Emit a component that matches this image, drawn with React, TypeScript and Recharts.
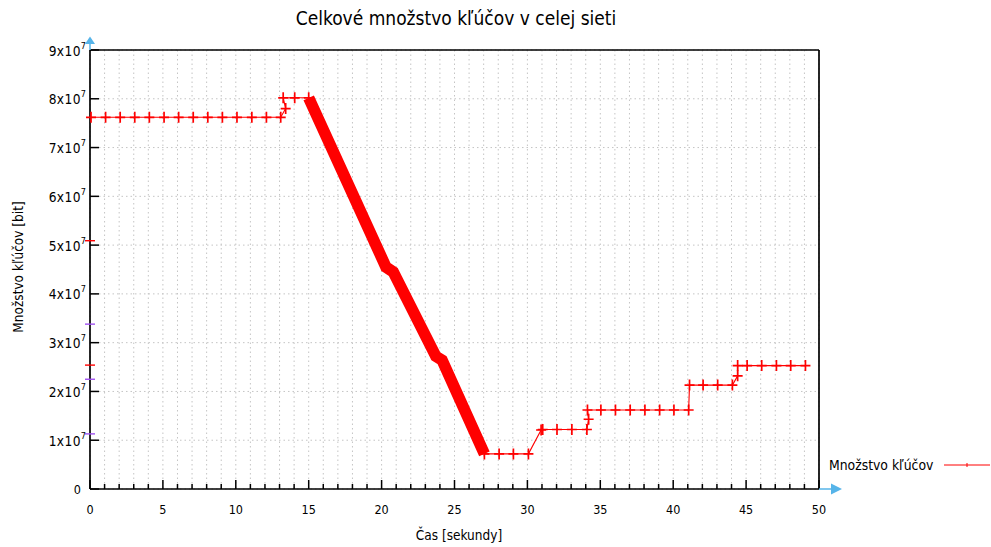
import React from 'react';
import { ComposedChart, Line, XAxis, YAxis, CartesianGrid, Scatter, Legend } from 'recharts';

// Values in units of 10^7 bit, time in seconds
const stepTimes = [0.07, 1.07, 2.07, 3.07, 4.07, 5.08, 6.08, 7.08, 8.08, 9.08, 10.08, 11.1, 12.1, 13.08, 13.42, 13.25, 14.04, 15.0];
const stepValues = [7.62, 7.62, 7.62, 7.62, 7.62, 7.62, 7.62, 7.62, 7.62, 7.62, 7.62, 7.62, 7.62, 7.62, 7.8, 8.02, 8.02, 8.02];

const bandTimes = [15.0, 20.3, 20.8, 23.72, 24.15, 27.05];
const bandValues = [8.02, 4.55, 4.45, 2.72, 2.64, 0.72];

const riseTimes = [27.05, 28.06, 29.04, 30.07, 30.94, 31.05, 32.03, 33.05, 34.08, 34.2, 34.12, 35.04, 36.04, 37.05, 38.06, 39.07, 40.05, 41.06, 41.12, 42.05, 43.05, 44.06, 44.42, 44.42, 45.07, 46.07, 47.08, 48.06, 49.07];
const riseValues = [0.72, 0.72, 0.72, 0.72, 1.21, 1.22, 1.22, 1.22, 1.22, 1.43, 1.62, 1.62, 1.62, 1.62, 1.62, 1.62, 1.62, 1.62, 2.13, 2.13, 2.13, 2.13, 2.32, 2.53, 2.53, 2.53, 2.53, 2.53, 2.53];

const redEdgeValues = [5.09, 2.54];
const purpleEdgeValues = [3.38, 2.25, 1.13];

const xTicks = [0, 1, 2, 3, 4, 5, 6, 7, 8, 9, 10, 11, 12, 13, 14, 15, 16, 17, 18, 19, 20, 21, 22, 23, 24, 25, 26, 27, 28, 29, 30, 31, 32, 33, 34, 35, 36, 37, 38, 39, 40, 41, 42, 43, 44, 45, 46, 47, 48, 49, 50];
const yTicks = [0, 1, 2, 3, 4, 5, 6, 7, 8, 9];

const TITLE = 'Celkové množstvo kľúčov v celej sieti';
const X_LABEL = 'Čas [sekundy]';
const Y_LABEL = 'Množstvo kľúčov [bit]';
const SERIES_NAME = 'Množstvo kľúčov';

const zip = (ts: number[], vs: number[]) => ts.map((t, i) => ({ t, v: vs[i] }));
const stepData = zip(stepTimes, stepValues);
const bandData = zip(bandTimes, bandValues);
const riseData = zip(riseTimes, riseValues);
const redEdge = redEdgeValues.map((v) => ({ t: 0, v }));
const purpleEdge = purpleEdgeValues.map((v) => ({ t: 0, v }));

const FONT = '"DejaVu Sans Condensed", "DejaVu Sans", sans-serif';
const RED = '#ff0000';
const PURPLE = '#a050f0';
const ARROW = '#56b4e9';

const crossDot = (p: any) => {
  if (p.cx == null || p.cy == null) return <g key={`n${p.index}`} />;
  return (
    <path
      key={`c${p.index}`}
      d={`M${p.cx - 5},${p.cy}h10M${p.cx},${p.cy - 5.5}v11`}
      stroke={RED}
      strokeWidth={1.7}
      fill="none"
    />
  );
};

const BottomTick = (p: any) => {
  const v = p.payload.value;
  const major = v % 5 === 0;
  return (
    <g>
      <line x1={p.x} x2={p.x} y1={p.y} y2={p.y - (major ? 9 : 5)} stroke="#000" strokeWidth={1.5} />
      {major && (
        <text x={p.x} y={p.y + 25} textAnchor="middle" fontSize={12.5} fontFamily={FONT} fill="#000">
          {v}
        </text>
      )}
    </g>
  );
};

const TopTick = (p: any) => {
  const v = p.payload.value;
  const major = v % 5 === 0;
  return <line x1={p.x} x2={p.x} y1={p.y} y2={p.y + (major ? 9 : 5)} stroke="#000" strokeWidth={1.5} />;
};

const LeftTick = (p: any) => {
  const v = p.payload.value;
  return (
    <g>
      <line x1={p.x} x2={p.x + 9} y1={p.y} y2={p.y} stroke="#000" strokeWidth={1.5} />
      {v === 0 ? (
        <text x={p.x - 9} y={p.y + 5} textAnchor="end" fontSize={12.5} fontFamily={FONT} fill="#000">0</text>
      ) : (
        <text x={p.x - 4} y={p.y + 5.5} textAnchor="end" fontSize={13.6} fontFamily={FONT} fill="#000" letterSpacing={0.4}>
          {`${v}x10`}
          <tspan dy={-7} fontSize={9} letterSpacing={0}>7</tspan>
        </text>
      )}
    </g>
  );
};

const RightTick = (p: any) => (
  <line x1={p.x} x2={p.x - 8} y1={p.y} y2={p.y} stroke="#000" strokeWidth={1.5} />
);

const dashShape = (color: string) => (p: any) => (
  <line x1={p.cx - 5} x2={p.cx + 5} y1={p.cy} y2={p.cy} stroke={color} strokeWidth={1.4} />
);

const LegendContent = () => (
  <div style={{ display: 'flex', alignItems: 'center', fontFamily: FONT, fontSize: 13.8, color: '#000', whiteSpace: 'nowrap' }}>
    <span>{SERIES_NAME}</span>
    <svg width={46} height={12} style={{ marginLeft: 11 }}>
      <line x1={0} x2={46} y1={6} y2={6} stroke={RED} strokeWidth={1} />
      <line x1={23} x2={23} y1={4} y2={8} stroke={RED} strokeWidth={1} />
    </svg>
  </div>
);

const axisLineStyle = { stroke: '#000', strokeWidth: 1.7 };

export default function App() {
  return (
    <div style={{ position: 'absolute', left: 0, top: 0, width: 991, height: 547, background: '#fff' }}>
      <ComposedChart width={991} height={547} margin={{ top: 0, right: 0, bottom: 0, left: 0 }}>
        <CartesianGrid xAxisId="b" yAxisId="l" stroke="#c4c4c4" strokeDasharray="1.5 3" />
        <XAxis
          xAxisId="b"
          dataKey="t"
          type="number"
          domain={[0, 50]}
          ticks={xTicks}
          interval={0}
          height={58}
          tickSize={0}
          tickMargin={0}
          tickLine={false}
          axisLine={axisLineStyle}
          tick={BottomTick}
        />
        <XAxis
          xAxisId="t"
          orientation="top"
          dataKey="t"
          type="number"
          domain={[0, 50]}
          ticks={xTicks}
          interval={0}
          height={50}
          tickSize={0}
          tickMargin={0}
          tickLine={false}
          axisLine={axisLineStyle}
          tick={TopTick}
        />
        <YAxis
          yAxisId="l"
          type="number"
          domain={[0, 9]}
          ticks={yTicks}
          interval={0}
          width={90}
          tickSize={0}
          tickMargin={0}
          tickLine={false}
          axisLine={axisLineStyle}
          tick={LeftTick}
        />
        <YAxis
          yAxisId="r"
          orientation="right"
          type="number"
          domain={[0, 9]}
          ticks={yTicks}
          interval={0}
          width={172}
          tickSize={0}
          tickMargin={0}
          tickLine={false}
          axisLine={axisLineStyle}
          tick={RightTick}
        />
        <Line
          data={stepData}
          xAxisId="b"
          yAxisId="l"
          dataKey="v"
          name={SERIES_NAME}
          type="linear"
          stroke={RED}
          strokeWidth={1.1}
          dot={crossDot}
          activeDot={false}
          isAnimationActive={false}
        />
        <Line
          data={riseData}
          xAxisId="b"
          yAxisId="l"
          dataKey="v"
          name="rise"
          legendType="none"
          type="linear"
          stroke={RED}
          strokeWidth={1.1}
          dot={crossDot}
          activeDot={false}
          isAnimationActive={false}
        />
        <Line
          data={bandData}
          xAxisId="b"
          yAxisId="l"
          dataKey="v"
          name="band"
          legendType="none"
          type="linear"
          stroke={RED}
          strokeWidth={11.5}
          strokeLinejoin="miter"
          dot={false}
          activeDot={false}
          isAnimationActive={false}
        />
        <Scatter data={redEdge} xAxisId="b" yAxisId="l" dataKey="v" legendType="none" shape={dashShape(RED)} isAnimationActive={false} />
        <Scatter data={purpleEdge} xAxisId="b" yAxisId="l" dataKey="v" legendType="none" shape={dashShape(PURPLE)} isAnimationActive={false} />
        <Legend
          layout="horizontal"
          verticalAlign="middle"
          align="center"
          content={LegendContent}
          wrapperStyle={{ position: 'absolute', left: 829, top: 457, width: 162, height: 18 }}
        />
      </ComposedChart>
      <svg width={991} height={547} style={{ position: 'absolute', left: 0, top: 0, pointerEvents: 'none' }}>
        <text x={456} y={24.5} textAnchor="middle" fontSize={19} fontFamily={FONT} fill="#000">{TITLE}</text>
        <text x={459} y={540} textAnchor="middle" fontSize={13.5} fontFamily={FONT} fill="#000">{X_LABEL}</text>
        <text transform="translate(23,267) rotate(-90)" textAnchor="middle" fontSize={13.5} fontFamily={FONT} fill="#000">{Y_LABEL}</text>
        <line x1={90} x2={90} y1={50} y2={42} stroke={ARROW} strokeWidth={1.5} />
        <path d="M85,44 L90,36.5 L95,44 Z" fill={ARROW} />
        <line x1={819} x2={832} y1={489} y2={489} stroke={ARROW} strokeWidth={1.5} />
        <path d="M831,483.5 L842,489 L831,494.5 Z" fill={ARROW} />
      </svg>
    </div>
  );
}
